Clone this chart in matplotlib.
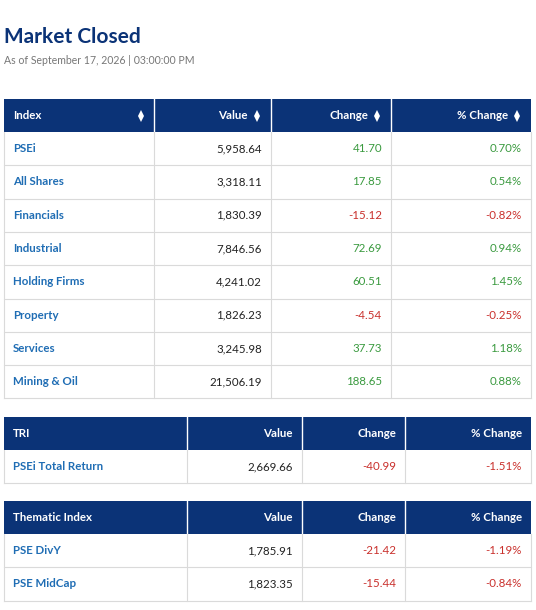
import matplotlib.pyplot as plt
from matplotlib.patches import Rectangle

plt.rcParams['font.family'] = ['Lato', 'DejaVu Sans']

idx_names = ["PSEi", "All Shares", "Financials", "Industrial", "Holding Firms", "Property", "Services", "Mining & Oil"]
idx_values = ["5,958.64", "3,318.11", "1,830.39", "7,846.56", "4,241.02", "1,826.23", "3,245.98", "21,506.19"]
idx_change = [41.70, 17.85, -15.12, 72.69, 60.51, -4.54, 37.73, 188.65]
idx_pct = [0.70, 0.54, -0.82, 0.94, 1.45, -0.25, 1.18, 0.88]

tri_names = ["PSEi Total Return"]
tri_values = ["2,669.66"]
tri_change = [-40.99]
tri_pct = [-1.51]

them_names = ["PSE DivY", "PSE MidCap"]
them_values = ["1,785.91", "1,823.35"]
them_change = [-21.42, -15.44]
them_pct = [-1.19, -0.84]

NAVY = "#0b3377"
BLUE = "#1f6db4"
GREEN = "#3a9a3f"
RED = "#c9302c"
GRID = "#dadada"

fig = plt.figure(figsize=(5.36, 6.10), dpi=100)
ax = fig.add_axes([0, 0, 1, 1])
ax.set_xlim(0, 536)
ax.set_ylim(610, 0)
ax.axis('off')

ax.text(4, 37, "Market Closed", fontsize=15, fontweight='bold', color=NAVY, va='center')
ax.text(4, 61, "As of September 17, 2026 | 03:00:00 PM", fontsize=7.6, color="#777777", va='center')


def arrows(x, y):
    ax.plot([x], [y - 3], marker='^', color='white', markersize=4.5, markeredgewidth=0)
    ax.plot([x], [y + 3.5], marker='v', color='white', markersize=4.5, markeredgewidth=0)


def draw_table(top, cols, headers, names, values, change, pct, sort=False, rh=33.3, hh=33):
    left, right = cols[0], cols[-1]
    ax.add_patch(Rectangle((left, top), right - left, hh, color=NAVY, lw=0))
    for c in cols[1:-1]:
        ax.plot([c, c], [top, top + hh], color='white', lw=1)
    yc = top + hh / 2
    off = 14 if sort else 0
    ax.text(left + 9, yc, headers[0], color='white', fontweight='bold', fontsize=8.3, va='center')
    for i, h in enumerate(headers[1:]):
        ax.text(cols[i + 2] - 9 - off, yc, h, color='white', fontweight='bold', fontsize=8.3, va='center', ha='right')
        if sort:
            arrows(cols[i + 2] - 14, yc)
    if sort:
        arrows(cols[1] - 13, yc)
    n = len(names)
    bottom = top + hh + n * rh
    for k in range(n):
        y0 = top + hh + k * rh
        yc = y0 + rh / 2
        ax.plot([left, right], [y0 + rh, y0 + rh], color=GRID, lw=0.8)
        col = GREEN if change[k] >= 0 else RED
        ax.text(left + 9, yc, names[k], color=BLUE, fontweight='bold', fontsize=8.3, va='center')
        ax.text(cols[2] - 9, yc, values[k], color='#222222', fontsize=8.3, va='center', ha='right')
        ax.text(cols[3] - 9, yc, f"{change[k]:,.2f}", color=col, fontsize=8.3, va='center', ha='right')
        ax.text(cols[4] - 9, yc, f"{pct[k]:.2f}%", color=col, fontsize=8.3, va='center', ha='right')
    for c in cols:
        ax.plot([c, c], [top + hh, bottom], color=GRID, lw=0.8)


draw_table(99, [4, 154, 271, 391, 531], ["Index", "Value", "Change", "% Change"],
           idx_names, idx_values, idx_change, idx_pct, sort=True)
draw_table(417, [4, 187, 302, 405, 531], ["TRI", "Value", "Change", "% Change"],
           tri_names, tri_values, tri_change, tri_pct)
draw_table(501, [4, 187, 302, 405, 531], ["Thematic Index", "Value", "Change", "% Change"],
           them_names, them_values, them_change, them_pct)

fig.savefig("out.png", dpi=100)
